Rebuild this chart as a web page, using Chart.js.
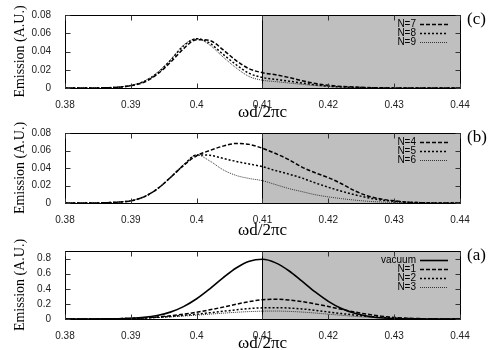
<!DOCTYPE html>
<html>
<head>
<meta charset="utf-8">
<script src="https://cdn.jsdelivr.net/npm/chart.js@4.4.1/dist/chart.umd.min.js"></script>
<style>
  html, body { margin: 0; padding: 0; background: #fff; }
  canvas { display: block; }
</style>
</head>
<body>
<canvas id="panelC" width="500" height="121"></canvas>
<canvas id="panelB" width="500" height="118"></canvas>
<canvas id="panelA" width="500" height="111"></canvas>
<script>
// eje x: omega d / 2 pi c
const freqs = [0.380, 0.382, 0.384, 0.386, 0.388, 0.390, 0.392, 0.394, 0.396, 0.398,
               0.400, 0.402, 0.404, 0.406, 0.408, 0.410, 0.412, 0.414, 0.416, 0.418,
               0.420, 0.422, 0.424, 0.426, 0.428, 0.430, 0.432, 0.434, 0.436, 0.438, 0.440];
const xTicks = [0.38, 0.39, 0.40, 0.41, 0.42, 0.43, 0.44];
const bandEdge = 0.41;

// panel (c)
const n7 = [0, 0, 0, 0.0002, 0.0008, 0.0025, 0.0063, 0.015, 0.028, 0.043,
            0.053, 0.052, 0.042, 0.030, 0.021, 0.0168, 0.0145, 0.0115, 0.008, 0.005,
            0.003, 0.0017, 0.001, 0.0005, 0.0002, 0.0001, 0, 0, 0, 0, 0];
const n8 = [0, 0, 0, 0.0002, 0.0009, 0.0027, 0.007, 0.016, 0.030, 0.046,
            0.054, 0.049, 0.037, 0.0255, 0.016, 0.0115, 0.0095, 0.0075, 0.0055, 0.0035,
            0.002, 0.0012, 0.0007, 0.0003, 0.0001, 0, 0, 0, 0, 0, 0];
const n9 = [0, 0, 0, 0.0003, 0.001, 0.003, 0.0075, 0.017, 0.031, 0.047,
            0.054, 0.047, 0.034, 0.022, 0.0125, 0.0085, 0.007, 0.0055, 0.004, 0.0027,
            0.0017, 0.001, 0.0006, 0.0003, 0.0001, 0, 0, 0, 0, 0, 0];

// panel (b)
const n4 = [0, 0, 0, 0.0003, 0.001, 0.0025, 0.007, 0.016, 0.029, 0.043,
            0.054, 0.060, 0.065, 0.068, 0.067, 0.0625, 0.0565, 0.0495, 0.041, 0.0345,
            0.029, 0.022, 0.014, 0.008, 0.0045, 0.0025, 0.001, 0.0004, 0.0001, 0, 0];
const n5 = [0, 0, 0, 0.0003, 0.001, 0.0025, 0.007, 0.016, 0.029, 0.043,
            0.055, 0.0545, 0.051, 0.0475, 0.0445, 0.0415, 0.037, 0.033, 0.0285, 0.023,
            0.018, 0.0135, 0.0095, 0.006, 0.0035, 0.002, 0.001, 0.0004, 0.0001, 0, 0];
const n6 = [0, 0, 0, 0.0003, 0.001, 0.0025, 0.007, 0.016, 0.029, 0.044,
            0.055, 0.048, 0.038, 0.0315, 0.028, 0.0255, 0.021, 0.0165, 0.013, 0.0095,
            0.007, 0.005, 0.0033, 0.002, 0.0012, 0.0007, 0.0003, 0.0001, 0, 0, 0];

// panel (a)
const vacuum = [0, 0.0001, 0.0004, 0.0012, 0.0035, 0.009, 0.0216, 0.047, 0.091, 0.164,
                0.268, 0.40, 0.544, 0.675, 0.764, 0.79, 0.743, 0.639, 0.50, 0.358,
                0.234, 0.139, 0.076, 0.037, 0.017, 0.007, 0.0026, 0.0009, 0.0003, 0.0001, 0];
const n1 = [0, 0.0005, 0.001, 0.002, 0.004, 0.008, 0.015, 0.026, 0.042, 0.063,
            0.09, 0.122, 0.157, 0.195, 0.23, 0.255, 0.262, 0.252, 0.23, 0.20,
            0.165, 0.128, 0.093, 0.062, 0.038, 0.021, 0.011, 0.005, 0.002, 0.0008, 0.0003];
const n2 = [0, 0.0005, 0.001, 0.002, 0.004, 0.007, 0.013, 0.022, 0.034, 0.048,
            0.064, 0.083, 0.102, 0.122, 0.138, 0.148, 0.15, 0.145, 0.133, 0.115,
            0.094, 0.072, 0.052, 0.035, 0.022, 0.012, 0.006, 0.003, 0.001, 0.0004, 0];
const n3 = [0, 0.0005, 0.001, 0.002, 0.004, 0.007, 0.012, 0.019, 0.028, 0.039,
            0.051, 0.064, 0.077, 0.089, 0.098, 0.104, 0.105, 0.101, 0.092, 0.079,
            0.064, 0.049, 0.035, 0.023, 0.014, 0.008, 0.004, 0.002, 0.001, 0.0004, 0];

const styles = {
    solid:  { borderDash: [],     borderWidth: 1.6, borderColor: '#000' },
    dashed: { borderDash: [4, 2], borderWidth: 1.5, borderColor: '#000' },
    dotted: { borderDash: [2, 2], borderWidth: 1.5, borderColor: '#000' },
    fine:   { borderDash: [1, 1], borderWidth: 1,   borderColor: '#333' }
};

const sansFont = 'Liberation Sans, Arial, sans-serif';
const serifFont = 'Liberation Serif, Times New Roman, serif';

// fondo gris de la banda, marco, marcas de ejes, leyenda y etiqueta del panel
const gnuplotLook = {
    id: 'gnuplotLook',
    beforeDatasetsDraw(chart) {
        const { ctx, chartArea } = chart;
        const x = chart.scales.x;
        const xb = Math.round(x.getPixelForValue(bandEdge)) + 0.5;
        ctx.save();
        ctx.fillStyle = '#bfbfbf';
        ctx.fillRect(xb, chartArea.top, chartArea.right - xb, chartArea.bottom - chartArea.top);
        ctx.restore();
    },
    afterDraw(chart, args, opts) {
        const { ctx, chartArea } = chart;
        const x = chart.scales.x;
        const y = chart.scales.y;
        const L = Math.round(chartArea.left) + 0.5;
        const R = Math.round(chartArea.right) + 0.5;
        const T = Math.round(chartArea.top) + 0.5;
        const B = Math.round(chartArea.bottom) + 0.5;
        ctx.save();
        ctx.strokeStyle = '#000';
        ctx.lineWidth = 1;
        ctx.setLineDash([]);
        ctx.strokeRect(L, T, R - L, B - T);
        const xb = Math.round(x.getPixelForValue(bandEdge)) + 0.5;
        ctx.beginPath();
        ctx.moveTo(xb, T);
        ctx.lineTo(xb, B);
        ctx.stroke();

        ctx.strokeStyle = '#333';
        ctx.beginPath();
        xTicks.forEach(v => {
            const px = Math.round(x.getPixelForValue(v)) + 0.5;
            ctx.moveTo(px, B); ctx.lineTo(px, B - 5);
            ctx.moveTo(px, T); ctx.lineTo(px, T + 5);
        });
        y.ticks.forEach(t => {
            const py = Math.round(y.getPixelForValue(t.value)) + 0.5;
            ctx.moveTo(L, py); ctx.lineTo(L + 5, py);
            ctx.moveTo(R, py); ctx.lineTo(R - 5, py);
        });
        ctx.stroke();

        // leyenda
        ctx.font = '10px ' + sansFont;
        ctx.fillStyle = '#000';
        ctx.textAlign = 'right';
        ctx.textBaseline = 'middle';
        chart.data.datasets.forEach((ds, i) => {
            const ly = chartArea.top + 9 + i * 9;
            ctx.fillText(ds.label, chartArea.right - 44, ly);
            ctx.strokeStyle = ds.borderColor;
            ctx.lineWidth = ds.borderWidth;
            ctx.setLineDash(ds.borderDash);
            ctx.beginPath();
            ctx.moveTo(chartArea.right - 40, Math.round(ly) + 0.5);
            ctx.lineTo(chartArea.right - 12, Math.round(ly) + 0.5);
            ctx.stroke();
        });

        // etiqueta (a), (b), (c)
        ctx.setLineDash([]);
        ctx.font = '17px ' + serifFont;
        ctx.textAlign = 'left';
        ctx.textBaseline = 'top';
        ctx.fillText(opts.tag, chartArea.right + 7, chartArea.top - 4);
        ctx.restore();
    }
};

function trimNumber(v) {
    return String(Number(Number(v).toFixed(3)));
}

function makePanel(canvasId, tag, series, labels, dashes, yMax, yStep, topPad, xAxisHeight, titleLH) {
    const ctx = document.getElementById(canvasId).getContext('2d');
    const datasets = series.map((vals, i) => Object.assign({
        label: labels[i],
        data: vals.map((v, k) => ({ x: freqs[k], y: v })),
        pointRadius: 0,
        fill: false,
        cubicInterpolationMode: 'monotone'
    }, styles[dashes[i]]));

    return new Chart(ctx, {
        type: 'line',
        data: { datasets: datasets },
        plugins: [gnuplotLook],
        options: {
            responsive: false,
            animation: false,
            devicePixelRatio: 1,
            layout: { padding: { top: topPad, right: 40, left: 0, bottom: 0 } },
            plugins: {
                legend: { display: false },
                tooltip: { enabled: false },
                gnuplotLook: { tag: tag }
            },
            scales: {
                x: {
                    type: 'linear',
                    min: 0.38,
                    max: 0.44,
                    afterBuildTicks(scale) {
                        scale.ticks = xTicks.map(v => ({ value: v }));
                    },
                    afterFit(scale) { scale.height = xAxisHeight; },
                    grid: { display: false },
                    border: { display: false },
                    ticks: {
                        padding: 3,
                        maxRotation: 0,
                        autoSkip: false,
                        color: '#222',
                        font: { family: sansFont, size: 10 },
                        callback: v => trimNumber(v)
                    },
                    title: {
                        display: true,
                        text: 'ωd/2πc',
                        color: '#000',
                        padding: { top: 0, bottom: 0 },
                        font: { family: serifFont, size: 17, lineHeight: titleLH }
                    }
                },
                y: {
                    min: 0,
                    max: yMax,
                    afterFit(scale) { scale.width = 65; },
                    grid: { display: false },
                    border: { display: false },
                    ticks: {
                        stepSize: yStep,
                        includeBounds: false,
                        padding: 6,
                        color: '#222',
                        font: { family: sansFont, size: 10 },
                        callback: v => trimNumber(v)
                    },
                    title: {
                        display: true,
                        text: 'Emission (A.U.)',
                        color: '#000',
                        padding: { top: 12, bottom: 0 },
                        font: { family: serifFont, size: 14 }
                    }
                }
            }
        }
    });
}

makePanel('panelC', '(c)', [n7, n8, n9], ['N=7', 'N=8', 'N=9'], ['dashed', 'dotted', 'fine'], 0.08, 0.02, 15, 33, 1);
makePanel('panelB', '(b)', [n4, n5, n6], ['N=4', 'N=5', 'N=6'], ['dashed', 'dotted', 'fine'], 0.08, 0.02, 10, 36, 1);
makePanel('panelA', '(a)', [vacuum, n1, n2, n3], ['vacuum', 'N=1', 'N=2', 'N=3'], ['solid', 'dashed', 'dotted', 'fine'], 0.9, 0.2, 7, 31, 0.75);
</script>
</body>
</html>
